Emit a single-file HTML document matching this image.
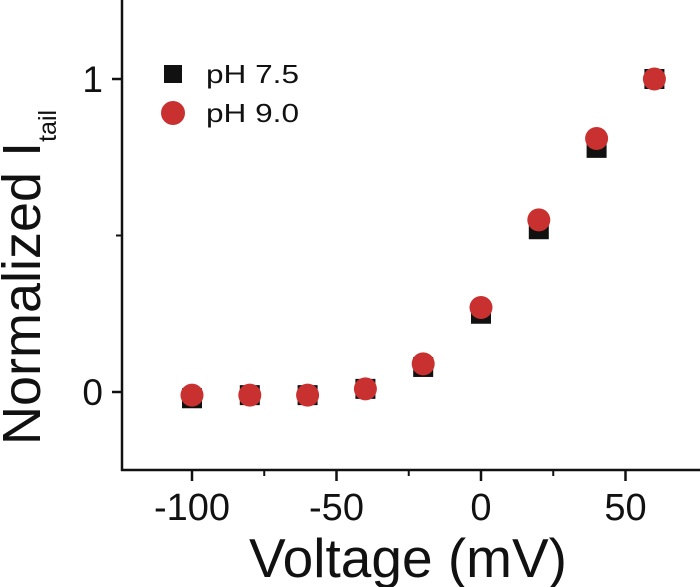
<!DOCTYPE html>
<html><head><meta charset="utf-8"><style>
html,body{margin:0;padding:0;background:#fff;}
svg{display:block;font-family:"Liberation Sans",Arial,sans-serif;}
</style></head><body>
<svg id="chart" width="700" height="587" viewBox="0 0 700 587">
<g id="axes"></g><g id="marks"></g>
<g>
<rect x="164" y="65" width="18" height="18" fill="#111"/>
<text x="206" y="83" font-size="26" textLength="93" lengthAdjust="spacingAndGlyphs" fill="#111">pH 7.5</text>
<ellipse cx="173" cy="113" rx="12" ry="12" fill="#c8312f"/>
<text x="206" y="122" font-size="26" textLength="93" lengthAdjust="spacingAndGlyphs" fill="#111">pH 9.0</text>
</g>
<text x="408" y="577" font-size="55" text-anchor="middle" fill="#111">Voltage (mV)</text>
<text transform="translate(40,445) rotate(-90)" font-size="54" fill="#111">Normalized I<tspan font-size="25" dy="16">tail</tspan></text>
</svg>
<script>
const voltages = [-100, -80, -60, -40, -20, 0, 20, 40, 60];
const ph75 = [-0.02, -0.01, -0.01, 0.01, 0.08, 0.25, 0.52, 0.78, 1.0];
const ph90 = [-0.01, -0.01, -0.01, 0.01, 0.09, 0.27, 0.55, 0.81, 1.0];
const xTicks = [-100, -50, 0, 50];
const xMinor = [-75, -25, 25];
const yTicks = [0, 1];
const yMinor = [0.5];

const NS = "http://www.w3.org/2000/svg";
function xs(v){ return 481 + 2.89 * v; }
function ys(v){ return 392 - 313 * v; }
function mk(tag, attrs, parent){
  const e = document.createElementNS(NS, tag);
  for (const k in attrs) e.setAttribute(k, attrs[k]);
  parent.appendChild(e);
  return e;
}
const axes = document.getElementById('axes');
const marks = document.getElementById('marks');
let el;
el = mk('line', {x1:122, y1:0, x2:122, y2:471, stroke:'#111', 'stroke-width':2.5}, axes);


el = mk('line', {x1:121, y1:470, x2:700, y2:470, stroke:'#111', 'stroke-width':2.5}, axes);


xTicks.forEach(t => {
  el = mk('line', {x1:xs(t), y1:470, x2:xs(t), y2:481, stroke:'#111', 'stroke-width':2.5}, axes);
  
  
  el = mk('text', {x:xs(t), y:520, 'font-size':38, 'text-anchor':'middle', fill:'#111'}, axes);
  el.textContent = t;
  
  
});
xMinor.forEach(t => {
  el = mk('line', {x1:xs(t), y1:470, x2:xs(t), y2:476, stroke:'#111', 'stroke-width':2}, axes);
  
  
});
yTicks.forEach(t => {
  el = mk('line', {x1:112, y1:ys(t), x2:122, y2:ys(t), stroke:'#111', 'stroke-width':2.5}, axes);
  
  
  el = mk('text', {x:103, y:ys(t)+13, 'font-size':37, 'text-anchor':'end', fill:'#111'}, axes);
  el.textContent = t;
  
  
});
yMinor.forEach(t => {
  el = mk('line', {x1:116, y1:ys(t), x2:122, y2:ys(t), stroke:'#111', 'stroke-width':2}, axes);
  
  
});
voltages.forEach((v, i) => {
  el = mk('rect', {x:xs(v)-10, y:ys(ph75[i])-10, width:20, height:20, fill:'#111'}, marks);
  
  
});
voltages.forEach((v, i) => {
  el = mk('ellipse', {cx:xs(v), cy:ys(ph90[i]), rx:11.5, ry:11.5, fill:'#c8312f'}, marks);
  
  
});
</script>
</body></html>
